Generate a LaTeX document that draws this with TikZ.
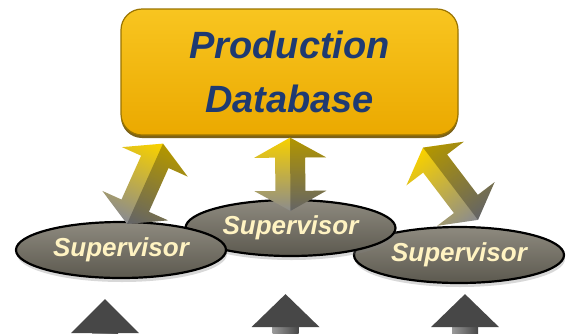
\documentclass[tikz,border=0pt]{standalone}
\usepackage{fontspec}
\setmainfont{Liberation Sans}
\usetikzlibrary{calc,shapes.geometric,shadows}
\definecolor{dbtop}{HTML}{F8C520}
\definecolor{dbbot}{HTML}{EBA900}
\definecolor{dbedge}{HTML}{9A7400}
\definecolor{dbshadow}{HTML}{6E5200}
\definecolor{dbblue}{HTML}{1E3A72}
\definecolor{suptop}{HTML}{8E8A7F}
\definecolor{supbot}{HTML}{5C594F}
\definecolor{suptext}{HTML}{FFF3C2}
\definecolor{ayellow}{HTML}{F7D000}
\definecolor{alight}{HTML}{EDE6C8}
\definecolor{agray}{HTML}{8C8C8C}
\definecolor{gdark}{HTML}{474747}
\definecolor{gmid}{HTML}{9A9A9A}
\definecolor{glight}{HTML}{C9C9C9}
\tikzset{
  dbbox/.style={rounded corners=21pt, minimum width=337pt, minimum height=126pt,
    draw=dbedge, line width=1.2pt, top color=dbtop, bottom color=dbbot,
    text=dbblue, align=center, inner sep=0pt,
    font=\fontsize{38}{54}\selectfont\bfseries\itshape,
    drop shadow={shadow xshift=0pt, shadow yshift=-3pt, fill=dbshadow, opacity=0.9}},
  supnode/.style={ellipse, draw=black, line width=2.2pt, top color=suptop,
    bottom color=supbot, minimum width=210pt, minimum height=56pt, inner sep=0pt,
    text=suptext, font=\fontsize{26}{30}\selectfont\bfseries\itshape,
    drop shadow={shadow xshift=1pt, shadow yshift=-4pt, opacity=0.3}},
  arrowfill/.style={top color=ayellow, middle color=alight, bottom color=agray},
  arrowdark/.style={fill=black, fill opacity=0.28},
  grayhead/.style={left color=gdark, middle color=gmid, right color=gdark},
  grayshaft/.style={left color=gmid, middle color=glight, right color=gdark}
}
% double block arrow from #1 (bottom tip) to #2 (top tip), shading angle #3
\newcommand\dblarrow[3]{%
  \coordinate (#1h) at ($(#1)!20pt!(#2)$);
  \coordinate (#2h) at ($(#2)!20pt!(#1)$);
  \path[arrowfill, shading angle=#3]
    (#1) -- ($(#1h)!36pt!90:(#2)$) -- ($(#1h)!15pt!90:(#2)$)
    -- ($(#2h)!15pt!-90:(#1)$) -- ($(#2h)!36pt!-90:(#1)$) -- (#2)
    -- ($(#2h)!36pt!90:(#1)$) -- ($(#2h)!15pt!90:(#1)$)
    -- ($(#1h)!15pt!-90:(#2)$) -- ($(#1h)!36pt!-90:(#2)$) -- cycle;
  \fill[arrowdark]
    (#1) -- (#2) -- ($(#2h)!36pt!90:(#1)$) -- ($(#2h)!15pt!90:(#1)$)
    -- ($(#1h)!15pt!-90:(#2)$) -- ($(#1h)!36pt!-90:(#2)$) -- cycle;
}
% single gray arrow pointing up to tip #1, head base y offset #2
\newcommand\grayup[2]{%
  \path[grayshaft] ($(#1)+(-13,#2-2)$) rectangle ($(#1)+(13,60)$);
  \path[grayhead] (#1) -- ($(#1)+(-34,#2)$) -- ($(#1)+(34,#2)$) -- cycle;
}
\begin{document}
\begin{tikzpicture}[x=1pt,y=-1pt]
\useasboundingbox (0,0) rectangle (570,333);
\fill[white] (0,0) rectangle (570,333);
\clip (0,0) rectangle (570,333);

\node[dbbox] (db) at (289.5,72) {Production\\Database};

\node[supnode] (s3) at (459,255) {\raisebox{-3pt}{Supervisor}};
\node[supnode] (s2) at (290.5,228) {\raisebox{-3pt}{Supervisor}};
\node[supnode] (s1) at (121,250) {\raisebox{-3pt}{Supervisor}};

\coordinate (lt) at ($(db.south)+(-126.5,8)$);
\coordinate (lb) at ($(s1.north)+(6,3)$);
\coordinate (mt) at ($(db.south)+(0.5,2)$);
\coordinate (mb) at ($(s2.north)+(0,12)$);
\coordinate (rt) at ($(db.south)+(133.5,12)$);
\coordinate (rb) at ($(s3.north)+(19,-6)$);

\dblarrow{lb}{lt}{-24}
\dblarrow{mb}{mt}{0}
\dblarrow{rb}{rt}{37}

\coordinate (u1) at ($(s1.south)+(-16,20)$);
\coordinate (u2) at ($(s2.south)+(-5,37)$);
\coordinate (u3) at ($(s3.south)+(6,10)$);
\grayup{u1}{34}
\grayup{u2}{33}
\grayup{u3}{33}
\end{tikzpicture}
\end{document}
